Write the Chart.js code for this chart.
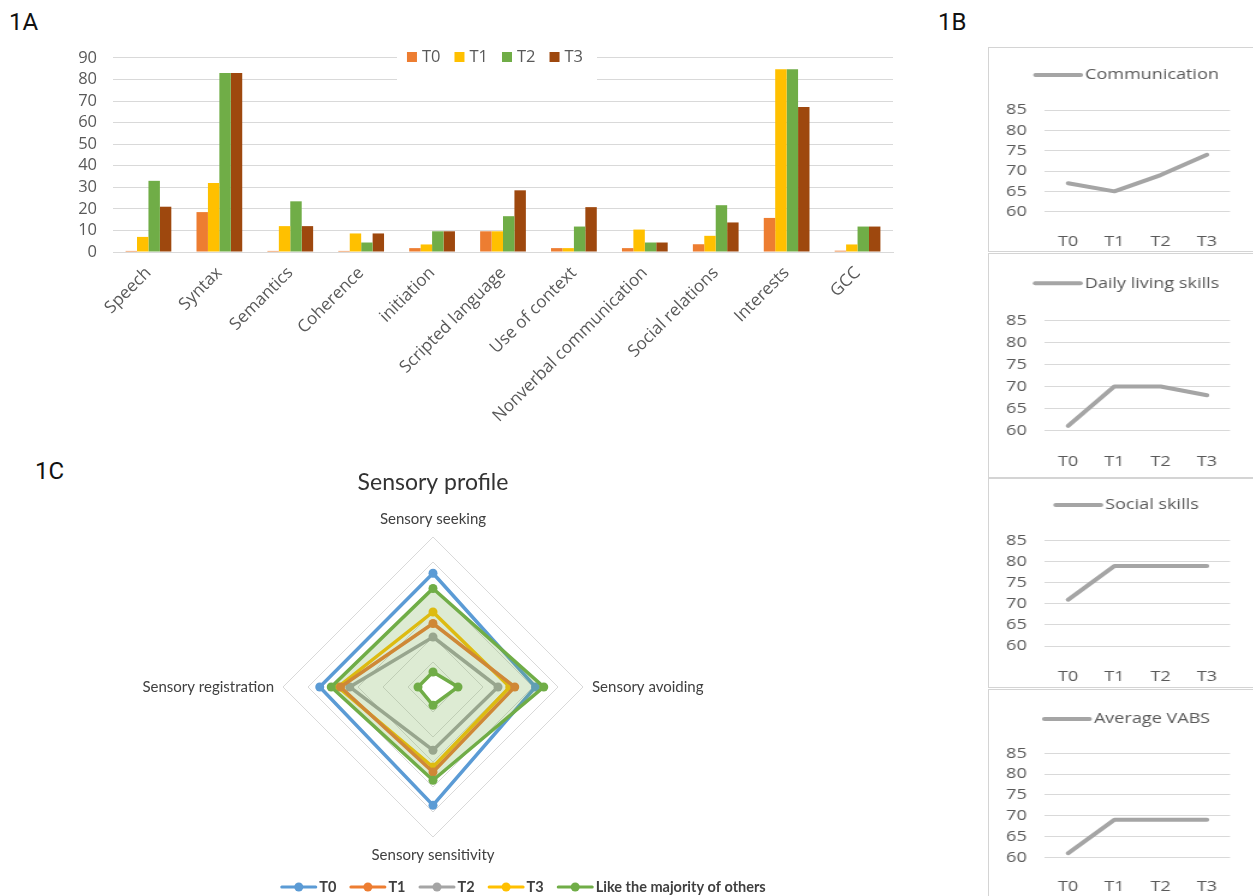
<!DOCTYPE html>
<html>
<head>
<meta charset="utf-8">
<script src="https://cdn.jsdelivr.net/npm/chart.js@4.4.1/dist/chart.umd.min.js"></script>
<style>
  html, body { margin: 0; padding: 0; background: #ffffff; overflow: hidden; width: 1253px; height: 896px; }
  canvas { position: absolute; }
  .tag { position: absolute; font-family: Roboto, sans-serif; font-size: 24px; line-height: 24px; color: #111; }
  .panel { position: absolute; left: 988px; width: 280px; border: 1px solid #d4d4d4; box-sizing: border-box; }
</style>
</head>
<body>
<div class="tag" style="left:9px; top:10px;">1A</div>
<div class="tag" style="left:938px; top:10px;">1B</div>
<div class="tag" style="left:35px; top:459px;">1C</div>

<canvas id="barChart" width="910" height="400" style="left:0; top:32px;"></canvas>
<canvas id="radarChart" width="866" height="436" style="left:0; top:460px;"></canvas>

<div class="panel" style="top:47px; height:205px;"></div>
<div class="panel" style="top:253px; height:225px;"></div>
<div class="panel" style="top:478px; height:210px;"></div>
<div class="panel" style="top:689px; height:215px;"></div>
<!-- the VABS panels are drawn on a narrower canvas and shown 280px wide -->
<canvas id="vabs1" width="233" height="205" style="left:988px; top:47px; width:280px; height:205px;"></canvas>
<canvas id="vabs2" width="233" height="225" style="left:988px; top:253px; width:280px; height:225px;"></canvas>
<canvas id="vabs3" width="233" height="210" style="left:988px; top:478px; width:280px; height:210px;"></canvas>
<canvas id="vabs4" width="233" height="215" style="left:988px; top:689px; width:280px; height:215px;"></canvas>

<script>
// ---- 1A: language / pragmatics scores per domain ----
const domains = ['Speech', 'Syntax', 'Semantics', 'Coherence', 'initiation', 'Scripted language',
  'Use of context', 'Nonverbal communication', 'Social relations', 'Interests', 'GCC'];
const scoreT0 = [0.5, 18.5, 0.5, 0.5, 1.8, 9.6, 1.8, 1.8, 3.6, 15.8, 0.6];
const scoreT1 = [7, 32, 12, 8.6, 3.5, 9.6, 1.8, 10.4, 7.5, 84.7, 3.5];
const scoreT2 = [33, 83, 23.5, 4.4, 9.6, 16.6, 11.8, 4.4, 21.7, 84.7, 11.8];
const scoreT3 = [21, 83, 12, 8.6, 9.6, 28.6, 20.8, 4.4, 13.7, 67.2, 11.8];
const scoreAxis = { min: 0, max: 90, step: 10 };

// ---- 1B: VABS standard scores over time ----
const timePoints = ['T0', 'T1', 'T2', 'T3'];
const communication = [67, 65, 69, 74];
const dailyLiving = [61, 70, 70, 68];
const socialSkills = [71, 79, 79, 79];
const averageVabs = [61, 69, 69, 69];
const vabsAxis = { min: 60, max: 85, step: 5 };

// ---- 1C: sensory profile quadrants ----
const sensoryAxes = ['Sensory seeking', 'Sensory avoiding', 'Sensory sensitivity', 'Sensory registration'];
const sensoryT0 = [45.5, 41, 47.3, 45.3];
const sensoryT1 = [25.4, 32.7, 34, 37];
const sensoryT2 = [20, 26, 25.3, 33.3];
const sensoryT3 = [30, 30.7, 32, 38];
const typicalUpper = [39.4, 44.3, 37.3, 40.7];
const typicalLower = [6, 10, 7.3, 6];
const sensoryAxis = { min: 0, max: 60, step: 10 };

Chart.defaults.font.family = 'Open Sans';
Chart.defaults.animation = false;

// Legend drawn inside the chart, with an optional white backdrop over the grid.
const inlineLegend = {
  id: 'inlineLegend',
  afterDraw(chart, _args, o) {
    if (!o || !o.display) return;
    const ctx = chart.ctx;
    const items = chart.data.datasets
      .filter(ds => ds.inLegend !== false)
      .map(ds => ({ text: ds.label, color: ds.legendColor || ds.borderColor || ds.backgroundColor }));
    ctx.save();
    if (o.backdrop) {
      ctx.fillStyle = '#ffffff';
      ctx.fillRect(o.backdrop.x, o.backdrop.y, o.backdrop.w, o.backdrop.h);
    }
    ctx.font = `${o.weight || 'normal'} ${o.size}px "${o.family}"`;
    ctx.textBaseline = 'middle';
    ctx.textAlign = 'left';
    const widths = items.map(it => o.swatchW + o.gap + ctx.measureText(it.text).width);
    const total = widths.reduce((a, b) => a + b, 0) + o.spacing * (items.length - 1);
    let x = o.centerX - total / 2;
    const y = o.y;
    items.forEach((it, i) => {
      if (o.swatch === 'square') {
        ctx.fillStyle = it.color;
        ctx.fillRect(x, y - o.swatchH / 2, o.swatchW, o.swatchH);
      } else {
        ctx.strokeStyle = it.color;
        ctx.lineWidth = o.swatchH;
        ctx.lineCap = 'round';
        ctx.beginPath();
        ctx.moveTo(x + o.swatchH / 2, y);
        ctx.lineTo(x + o.swatchW - o.swatchH / 2, y);
        ctx.stroke();
        if (o.marker) {
          ctx.fillStyle = it.color;
          ctx.beginPath();
          ctx.arc(x + o.swatchW / 2, y, o.marker, 0, Math.PI * 2);
          ctx.fill();
        }
      }
      ctx.fillStyle = o.color;
      ctx.fillText(it.text, x + o.swatchW + o.gap, y);
      x += widths[i] + o.spacing;
    });
    ctx.restore();
  }
};
Chart.register(inlineLegend);

const greyText = '#595959';
const gridGrey = '#d9d9d9';

// ---------- 1A grouped bars ----------
new Chart(document.getElementById('barChart'), {
  type: 'bar',
  data: {
    labels: domains,
    datasets: [
      { label: 'T0', data: scoreT0, backgroundColor: '#ed7d31' },
      { label: 'T1', data: scoreT1, backgroundColor: '#ffc000' },
      { label: 'T2', data: scoreT2, backgroundColor: '#70ad47' },
      { label: 'T3', data: scoreT3, backgroundColor: '#9e480e' }
    ]
  },
  options: {
    responsive: false,
    events: [],
    datasets: { bar: { categoryPercentage: 0.645, barPercentage: 1, borderWidth: 0 } },
    layout: { padding: { top: 21, right: 17, left: 0, bottom: 0 } },
    plugins: {
      legend: { display: false },
      tooltip: { enabled: false },
      inlineLegend: {
        display: true, swatch: 'square', swatchW: 10, swatchH: 10, gap: 5, spacing: 14,
        centerX: 495, y: 25, family: 'Open Sans', size: 16.5, color: greyText,
        backdrop: { x: 397, y: 12, w: 200, h: 36 }
      }
    },
    scales: {
      x: {
        grid: { display: false },
        border: { color: gridGrey },
        ticks: { color: greyText, font: { size: 17 }, minRotation: 45, maxRotation: 45, autoSkip: false, padding: 3 },
        afterFit(s) { s.height = 180; }
      },
      y: {
        min: scoreAxis.min, max: scoreAxis.max,
        ticks: { stepSize: scoreAxis.step, color: greyText, font: { size: 16.5 }, padding: 16, autoSkip: false },
        grid: { color: gridGrey, drawTicks: false },
        border: { display: false },
        afterFit(s) { s.width = 113; }
      }
    }
  }
});

// ---------- 1B small line panels ----------
const panelStretch = 280 / 233;   // canvas pixels are widened by this factor on screen
function vabsPanel(id, label, values, g) {
  const k = panelStretch;
  new Chart(document.getElementById(id), {
    type: 'line',
    data: {
      labels: timePoints,
      datasets: [{
        label, data: values, borderColor: '#a5a5a5', borderWidth: 4, pointRadius: 0,
        tension: 0, borderCapStyle: 'round', borderJoinStyle: 'round', fill: false
      }]
    },
    options: {
      responsive: false,
      events: [],
      layout: { padding: { top: g.top, right: 38 / k, left: 0, bottom: 0 } },
      plugins: {
        legend: { display: false },
        tooltip: { enabled: false },
        inlineLegend: {
          display: true, swatch: 'line', swatchW: 50 / k, swatchH: 4, gap: 2 / k, spacing: 0,
          centerX: 138 / k, y: g.legendY, family: 'Open Sans', size: 15, color: greyText
        }
      },
      scales: {
        x: {
          offset: true,
          grid: { display: false },
          border: { display: false },
          ticks: { color: greyText, font: { size: 15 }, padding: g.tickPad },
          afterFit(s) { s.height = g.h - g.bottom; }
        },
        y: {
          min: vabsAxis.min, max: vabsAxis.max,
          ticks: { stepSize: vabsAxis.step, color: greyText, font: { size: 15 }, padding: 18.3 / k, autoSkip: false },
          grid: { color: gridGrey, drawTicks: false },
          border: { display: false },
          afterFit(s) { s.width = 57 / k; }
        }
      }
    }
  });
}
vabsPanel('vabs1', 'Communication', communication, { h: 205, top: 63, bottom: 164.7, tickPad: 12.6, legendY: 28 });
vabsPanel('vabs2', 'Daily living skills', dailyLiving, { h: 225, top: 67.7, bottom: 177.3, tickPad: 14.7, legendY: 30.3 });
vabsPanel('vabs3', 'Social skills', socialSkills, { h: 210, top: 62.7, bottom: 168, tickPad: 14, legendY: 27 });
vabsPanel('vabs4', 'Average VABS', averageVabs, { h: 215, top: 64.3, bottom: 168.3, tickPad: 12.7, legendY: 30 });

// ---------- 1C radar ----------
function series(label, data, color, extra) {
  return Object.assign({
    label, data, borderColor: color, backgroundColor: color,
    pointBackgroundColor: color, pointBorderWidth: 0, pointRadius: 4.5,
    borderWidth: 3.5, fill: false
  }, extra || {});
}
const typicalGreen = '#70ad47';
new Chart(document.getElementById('radarChart'), {
  type: 'radar',
  data: {
    labels: sensoryAxes,
    datasets: [
      series('T0', sensoryT0, '#5b9bd5'),
      series('T1', sensoryT1, '#ed7d31'),
      series('T2', sensoryT2, '#a5a5a5'),
      series('T3', sensoryT3, '#ffc000'),
      series('Like the majority of others', typicalUpper, typicalGreen,
        { fill: '+1', backgroundColor: 'rgba(112,173,71,0.24)', legendColor: typicalGreen, order: -1 }),
      series('Like the majority of others (lower bound)', typicalLower, typicalGreen,
        { inLegend: false, order: -1 })
    ]
  },
  options: {
    responsive: false,
    events: [],
    layout: { padding: { top: 0, right: 0, left: 0, bottom: 32 } },
    plugins: {
      legend: { display: false },
      tooltip: { enabled: false },
      title: {
        display: true, text: 'Sensory profile', color: '#333333',
        font: { family: 'Lato', size: 23, weight: 'normal' },
        padding: { top: 9, bottom: 13.4 }
      },
      inlineLegend: {
        display: true, swatch: 'line', swatchW: 37, swatchH: 3, marker: 4.5, gap: 2, spacing: 13,
        centerX: 523, y: 427, family: 'Lato', size: 14.5, weight: 'bold', color: '#404040'
      }
    },
    scales: {
      r: {
        min: sensoryAxis.min, max: sensoryAxis.max,
        ticks: { display: false, stepSize: sensoryAxis.step },
        grid: { color: gridGrey, lineWidth: 1, circular: false },
        angleLines: { display: false },
        pointLabels: { color: '#404040', font: { family: 'Lato', size: 15 }, padding: 9 }
      }
    }
  }
});
</script>
</body>
</html>
